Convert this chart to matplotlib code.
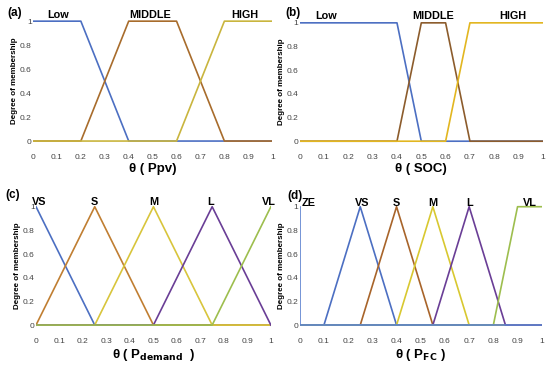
import matplotlib
matplotlib.use('Agg')
import matplotlib.pyplot as plt

plt.rcParams['font.family'] = ['Liberation Sans', 'DejaVu Sans']

# membership function breakpoints
# (a) theta(Ppv)
a_low_x = [0, 0.2, 0.4, 1]
a_low_y = [1, 1, 0, 0]
a_mid_x = [0, 0.2, 0.4, 0.6, 0.8, 1]
a_mid_y = [0, 0, 1, 1, 0, 0]
a_high_x = [0, 0.6, 0.8, 1]
a_high_y = [0, 0, 1, 1]

# (b) theta(SOC)
b_low_x = [0, 0.4, 0.5, 1]
b_low_y = [1, 1, 0, 0]
b_mid_x = [0, 0.4, 0.5, 0.6, 0.7, 1]
b_mid_y = [0, 0, 1, 1, 0, 0]
b_high_x = [0, 0.6, 0.7, 1]
b_high_y = [0, 0, 1, 1]

# (c) theta(P_demand)
c_vs_x = [0, 0.25, 1]
c_vs_y = [1, 0, 0]
c_s_x = [0, 0.25, 0.5, 1]
c_s_y = [0, 1, 0, 0]
c_m_x = [0, 0.25, 0.5, 0.75, 1]
c_m_y = [0, 0, 1, 0, 0]
c_l_x = [0, 0.5, 0.75, 1]
c_l_y = [0, 0, 1, 0]
c_vl_x = [0, 0.75, 1]
c_vl_y = [0, 0, 1]

# (d) theta(P_FC)
d_vs_x = [0, 0.1, 0.25, 0.4, 1]
d_vs_y = [0, 0, 1, 0, 0]
d_s_x = [0, 0.25, 0.4, 0.55, 1]
d_s_y = [0, 0, 1, 0, 0]
d_m_x = [0, 0.4, 0.55, 0.7, 1]
d_m_y = [0, 0, 1, 0, 0]
d_l_x = [0, 0.55, 0.7, 0.85, 1]
d_l_y = [0, 0, 1, 0, 0]
d_vl_x = [0, 0.8, 0.9, 1]
d_vl_y = [0, 0, 1, 1]
d_ze_x = [0, 0, 1]
d_ze_y = [1, 0, 0]

xticks = [0, 0.1, 0.2, 0.3, 0.4, 0.5, 0.6, 0.7, 0.8, 0.9, 1]
xticklabels = ['0', '0.1', '0.2', '0.3', '0.4', '0.5', '0.6', '0.7', '0.8', '0.9', '1']
yticks = [0, 0.2, 0.4, 0.6, 0.8, 1]
yticklabels = ['0', '0.2', '0.4', '0.6', '0.8', '1']

blue = '#4C6FC2'
purple = '#6A3E96'
green = '#9DBE4E'
lw = 1.2

fig = plt.figure(figsize=(5.5, 3.67), dpi=100)


def setup(ax, xlabel, panel, panel_xy, names, name_x, name_y):
    ax.set_xlim(0, 1)
    ax.set_ylim(-0.1, 1.1)
    for s in ax.spines.values():
        s.set_visible(False)
    ax.set_xticks(xticks)
    ax.set_xticklabels(xticklabels)
    ax.set_yticks(yticks)
    ax.set_yticklabels(yticklabels)
    ax.tick_params(length=0, labelsize=6, labelcolor='#444444', pad=1)
    ax.set_xlabel(xlabel, fontsize=9.5, fontweight='bold', labelpad=1)
    ax.set_ylabel('Degree of membership', fontsize=5.8, fontweight='bold', labelpad=1.5)
    for n, x in zip(names, name_x):
        ax.text(x, name_y, n, ha='center', va='center', fontsize=7.8,
                fontweight='bold')
    fig.text(panel_xy[0] / 550, 1 - panel_xy[1] / 367, panel, fontsize=8.5,
             fontweight='bold', ha='left', va='center')


ax = fig.add_axes([0.06, 0.583, 0.435, 0.392])
ax.plot(a_low_x, a_low_y, color=blue, lw=lw)
ax.plot(a_mid_x, a_mid_y, color='#A86C2C', lw=lw)
ax.plot(a_high_x, a_high_y, color='#C9B53E', lw=lw)
setup(ax, 'θ ( Ppv)', '(a)', (7, 13), ['Low', 'MIDDLE', 'HIGH'],
      [0.105, 0.49, 0.887], 1.05)

ax = fig.add_axes([0.545, 0.583, 0.442, 0.387])
ax.plot(b_low_x, b_low_y, color=blue, lw=lw)
ax.plot(b_mid_x, b_mid_y, color='#8C5C2C', lw=lw)
ax.plot(b_high_x, b_high_y, color='#E2B620', lw=lw)
setup(ax, 'θ ( SOC)', '(b)', (285, 13), ['Low', 'MIDDLE', 'HIGH'],
      [0.11, 0.547, 0.877], 1.06)

ax = fig.add_axes([0.0655, 0.082, 0.427, 0.387])
ax.plot(c_vs_x, c_vs_y, color=blue, lw=lw)
ax.plot(c_s_x, c_s_y, color='#C07E32', lw=lw)
ax.plot(c_m_x, c_m_y, color='#D8C53C', lw=lw)
ax.plot(c_l_x, c_l_y, color=purple, lw=lw)
ax.plot(c_vl_x, c_vl_y, color=green, lw=lw)
setup(ax, r'θ ( P$_{\mathbf{demand}}$  )', '(c)', (5, 195), ['VS', 'S', 'M', 'L', 'VL'],
      [0.015, 0.25, 0.5, 0.745, 0.99], 1.04)

ax = fig.add_axes([0.545, 0.082, 0.44, 0.387])
ax.plot(d_vs_x, d_vs_y, color=blue, lw=lw)
ax.plot(d_s_x, d_s_y, color='#A8642A', lw=lw)
ax.plot(d_m_x, d_m_y, color='#D8C830', lw=lw)
ax.plot(d_l_x, d_l_y, color=purple, lw=lw)
ax.plot(d_vl_x, d_vl_y, color=green, lw=lw)
ax.plot(d_ze_x, d_ze_y, color='#5C82D0', lw=lw)
setup(ax, r'θ ( P$_{\mathbf{FC}}$ )', '(d)', (287, 196), ['ZE', 'VS', 'S', 'M', 'L', 'VL'],
      [0.037, 0.256, 0.40, 0.55, 0.70, 0.95], 1.034)

fig.savefig('out.png', dpi=100)
